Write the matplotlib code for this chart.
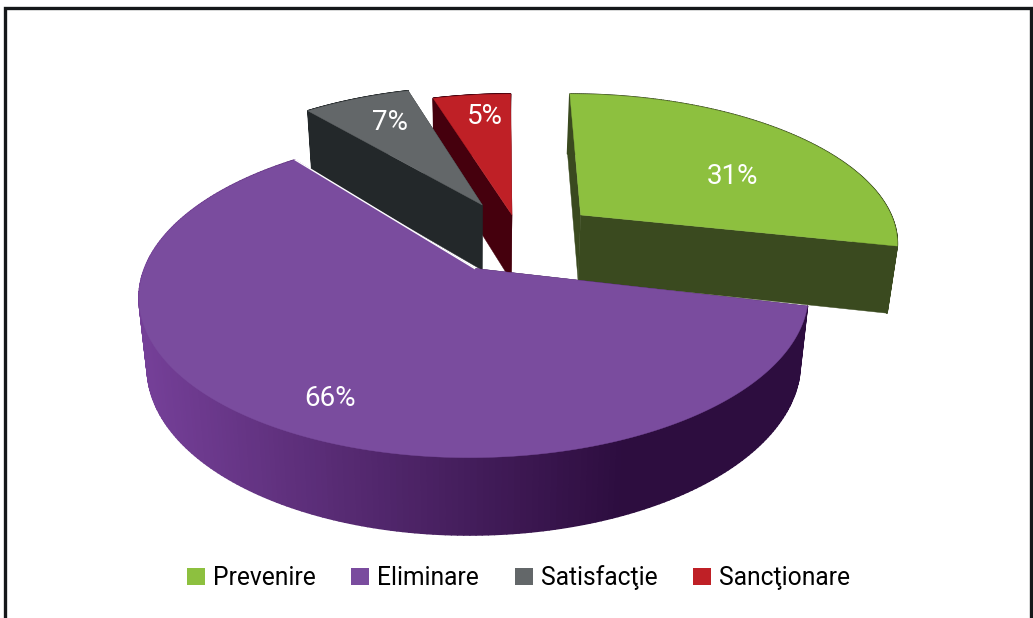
import numpy as np
import matplotlib
matplotlib.use("Agg")
import matplotlib.pyplot as plt
from matplotlib.collections import PolyCollection
from matplotlib.colors import to_rgb
from matplotlib.patches import Patch, Polygon

categories = ["Prevenire", "Eliminare", "Satisfacţie", "Sancţionare"]
values = [31, 66, 7, 5]
labels = ["31%", "66%", "7%", "5%"]

colors = ["#8dc03f", "#7a4c9e", "#636769", "#bf2026"]
side_colors = ["#3a4a1f", "#2d0d3f", "#23282a", "#45000d"]
# exploded apex of each slice, on the pie's ground plane (pie radius = 1)
offsets = [(0.332, 0.37), (-0.0015, 0.01), (0.0176, 0.442), (0.113, 0.37)]
turn = [0.0, -0.9, 0.0, 0.0]          # small per-slice rotation, degrees
radius_x = [0.99, 0.9925, 1.0, 1.0]
label_pos = [(733, 176), (330, 399), (390, 123), (485, 117)]
draw_order = [0, 3, 2, 1]

FONT = ["Roboto"]
CX, CY = 475, 270      # projected pie centre, px
A, B = 333, 158        # ground plane scale, px
K = 0.168              # perspective along depth
S = 4.5                # slight horizontal shear with depth, px
D, M = 70, 0.025       # thickness and its shrink


def project(u, v, z=0.0):
    den = (1 + K * v) * (1 + M * z)
    return np.column_stack([CX + (A * u + S * v) / den, CY + (-B * v + D * z) / den])


fig = plt.figure(figsize=(10.33, 6.18), dpi=100)
ax = fig.add_axes([0, 0, 1, 1])
ax.set_xlim(0, 1033)
ax.set_ylim(618, 0)
ax.axis("off")

# outer frame, running off the bottom of the picture
ax.plot([5, 5, 1031, 1031], [618, 7.5, 7.5, 618], color="#15181a", lw=2.4,
        solid_joinstyle="miter", clip_on=False)

fracs = np.array(values) / sum(values) * 360
ends = 90 - np.cumsum(fracs)
starts = ends + fracs


def mix(a, b, t):
    return tuple((1 - t) * np.array(to_rgb(a)) + t * np.array(to_rgb(b)))


for i in draw_order:
    t = np.radians(np.linspace(starts[i] + turn[i], ends[i] + turn[i], 240))
    u0, v0 = offsets[i]
    ru, rv = u0 + radius_x[i] * np.cos(t), v0 + np.sin(t)
    top = project(ru, rv)
    bot = project(ru, rv, 1)
    a_top = project(np.array([u0]), np.array([v0]))
    a_bot = project(np.array([u0]), np.array([v0]), 1)
    # the two cut faces
    for k in (0, -1):
        ax.add_patch(Polygon(np.vstack([a_top, top[k], bot[k], a_bot]),
                             closed=True, fc=side_colors[i], ec=side_colors[i], lw=0.3))
    # the outer rim, shaded from left to right on the big slice
    quads = [np.array([top[j], top[j + 1], bot[j + 1], bot[j]]) for j in range(len(t) - 1)]
    if i == 1:
        xs = np.array([q[:, 0].mean() for q in quads])
        s = np.clip((xs - 150) / (620 - 150), 0, 1)
        rim = [mix("#743f97", side_colors[i], x) for x in s]
    else:
        rim = [side_colors[i]] * len(quads)
    ax.add_collection(PolyCollection(quads, facecolors=rim, edgecolors=rim, linewidths=1.2))
    # the top face
    ax.add_patch(Polygon(np.vstack([a_top, top]), closed=True, fc=colors[i], ec=colors[i], lw=0.3))
    if i == 1:
        ax.plot([top[-1, 0], a_top[0, 0]], [top[-1, 1], a_top[0, 1]], color="white", lw=1.0)

for txt, (x, y) in zip(labels, label_pos):
    ax.text(x, y, txt, color="white", fontsize=20, family=FONT, ha="center", va="center")

handles = [Patch(fc=c, ec="none") for c in colors]
leg = ax.legend(handles, categories, ncols=4, loc="center", bbox_to_anchor=(518.5, 577.5),
                bbox_transform=ax.transData, frameon=False, prop={"family": FONT, "size": 17.7},
                handlelength=0.73, handleheight=0.73, handletextpad=0.34, columnspacing=1.44,
                borderpad=0, borderaxespad=0)

fig.savefig("out.png", dpi=100)
